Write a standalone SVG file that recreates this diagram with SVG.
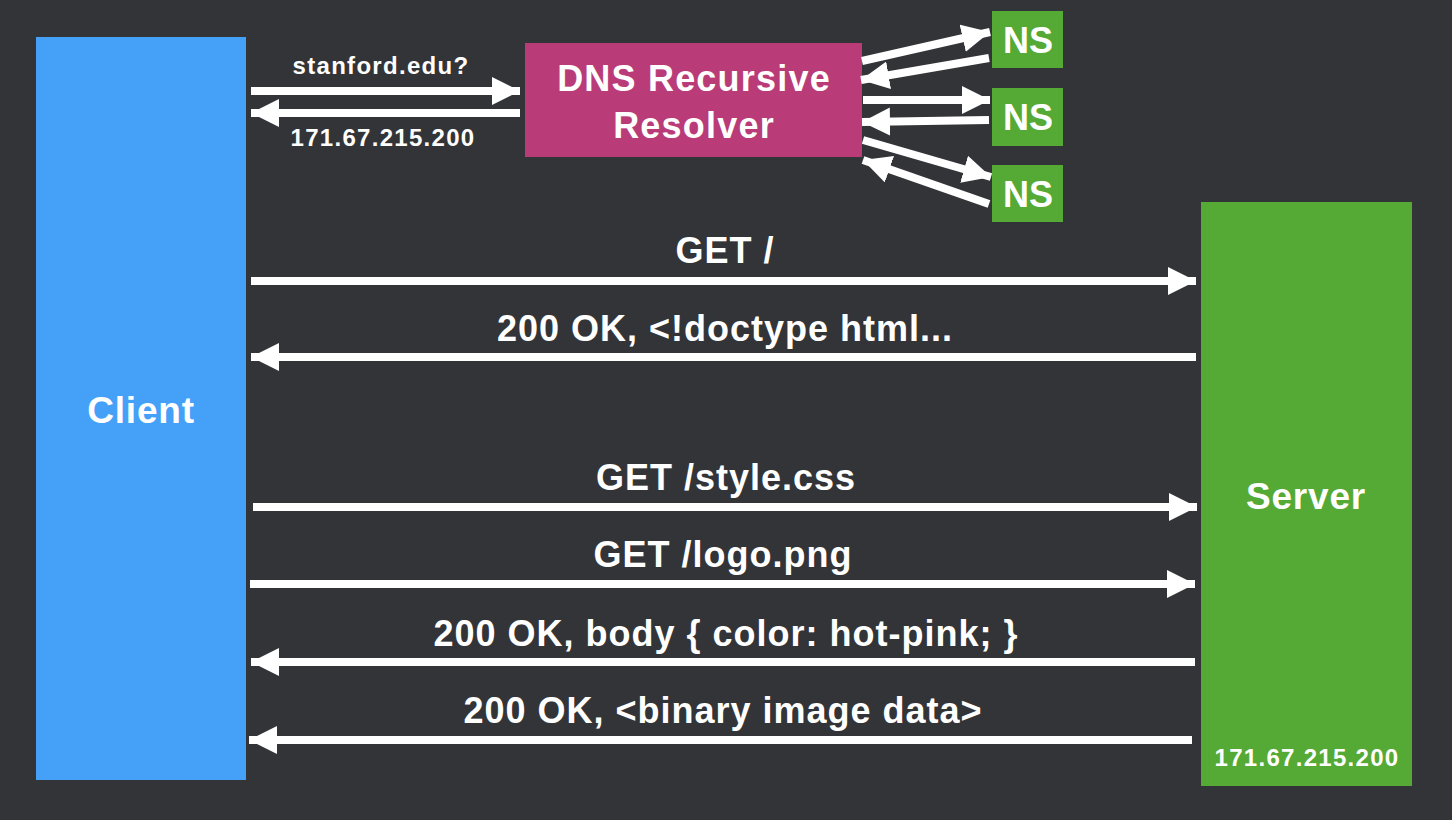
<svg xmlns="http://www.w3.org/2000/svg" width="1452" height="820" viewBox="0 0 1452 820">
<defs>
<marker id="ah" markerUnits="userSpaceOnUse" markerWidth="30" markerHeight="30" refX="28" refY="14" orient="auto">
<path d="M0,0 L28,14 L0,28 Z" fill="#fff"/>
</marker>
<style>
text{font-family:"Liberation Sans",Arial,sans-serif;font-weight:bold;fill:#fff;text-anchor:middle}
.big{font-size:36px;letter-spacing:1px}
.sm{font-size:24px;letter-spacing:1.3px}
.node{font-size:36px;letter-spacing:1.2px}
.conn line{stroke:#fff;stroke-width:8;marker-end:url(#ah)}
</style>
</defs>
<rect width="1452" height="820" fill="#333438"/>
<g id="client"><rect x="36" y="37" width="210" height="743" fill="#45a1f8"/><text x="141" y="423" style="font-size:37px;letter-spacing:0.8px">Client</text></g>
<g id="server"><rect x="1201" y="202" width="211" height="584" fill="#54aa35"/><text x="1306" y="509" style="font-size:37px;letter-spacing:0.8px">Server</text><text x="1307" y="766" class="sm">171.67.215.200</text></g>
<g id="dns"><rect x="525" y="43" width="337" height="114" fill="#b93b77"/><text x="694" y="91" class="node">DNS Recursive</text><text x="694" y="138" class="node">Resolver</text></g>
<g id="ns1"><rect x="992" y="11" width="71" height="57" fill="#54aa35"/><text x="1028" y="53" class="node" style="letter-spacing:0">NS</text></g>
<g id="ns2"><rect x="992" y="88" width="71" height="58" fill="#54aa35"/><text x="1028" y="130" class="node" style="letter-spacing:0">NS</text></g>
<g id="ns3"><rect x="992" y="165" width="71" height="57" fill="#54aa35"/><text x="1028" y="207" class="node" style="letter-spacing:0">NS</text></g>
<g class="conn" id="connectors">
<line x1="251" y1="91" x2="520" y2="91"/>
<line x1="520" y1="113" x2="251" y2="113"/>
<line x1="862" y1="61" x2="990" y2="32"/>
<line x1="989" y1="58" x2="861" y2="80"/>
<line x1="863" y1="100" x2="990" y2="100"/>
<line x1="989" y1="120" x2="862" y2="122"/>
<line x1="863" y1="140" x2="991" y2="177"/>
<line x1="989" y1="204" x2="863" y2="160"/>
<line x1="251" y1="281" x2="1196" y2="281"/>
<line x1="1196" y1="357" x2="251" y2="357"/>
<line x1="253" y1="507" x2="1197" y2="507"/>
<line x1="250" y1="584" x2="1195" y2="584"/>
<line x1="1195" y1="662" x2="251" y2="662"/>
<line x1="1192" y1="740" x2="249" y2="740"/>
</g>
<g id="labels">
<text x="381" y="74" class="sm">stanford.edu?</text>
<text x="383" y="146" class="sm">171.67.215.200</text>
<text x="725" y="263" class="big">GET /</text>
<text x="725" y="341" class="big">200 OK, &lt;!doctype html...</text>
<text x="726" y="490" class="big">GET /style.css</text>
<text x="723" y="567" class="big">GET /logo.png</text>
<text x="726" y="646" class="big">200 OK, body { color: hot-pink; }</text>
<text x="723" y="723" class="big">200 OK, &lt;binary image data&gt;</text>
</g>
</svg>
